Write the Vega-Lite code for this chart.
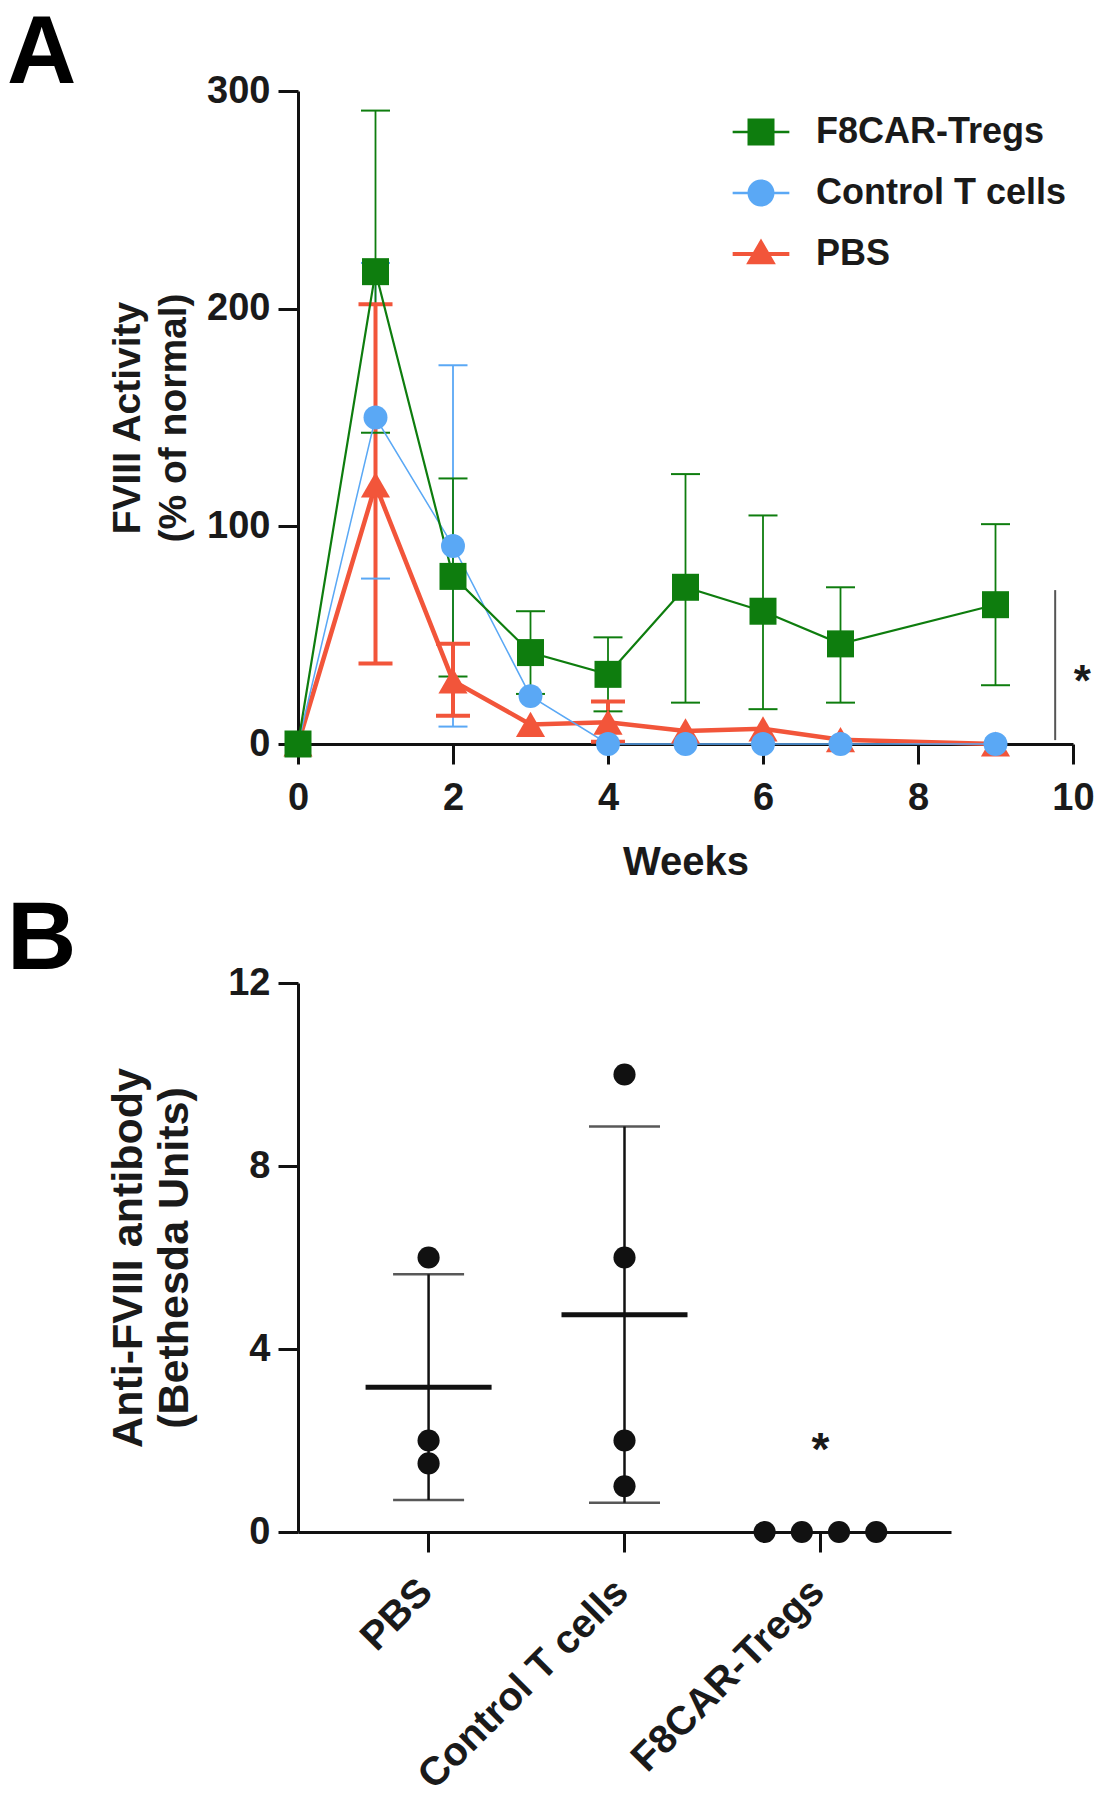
{
  "$schema": "https://vega.github.io/schema/vega-lite/v6.json",
  "background": "white",
  "padding": {"left": 7, "top": 6, "right": 0, "bottom": 0},
  "spacing": 10,
  "config": {
    "font": "Liberation Sans",
    "view": {"stroke": null},
    "axis": {
      "domainColor": "#111", "domainWidth": 3, "tickColor": "#111", "tickWidth": 3, "tickSize": 20,
      "labelFont": "Liberation Sans", "labelFontSize": 38, "labelFontWeight": "bold", "labelColor": "#1a1a1a", "labelLimit": 0, "labelFlush": false,
      "titleFont": "Liberation Sans", "titleFontSize": 39, "titleFontWeight": "bold", "titleColor": "#1a1a1a",
      "grid": false
    },
    "title": {"font": "Liberation Sans", "fontSize": 96, "fontWeight": "bold", "color": "#000", "anchor": "start", "frame": "group", "dx": -291, "offset": -25}
  },
  "vconcat": [
    {
      "title": {"text": "A", "offset": -31},
      "width": 775,
      "height": 653,
      "data": {"values": [
        {"series": "PBS", "week": 0, "mean": 0},
        {"series": "PBS", "week": 1, "mean": 119, "lo": 37, "hi": 202},
        {"series": "PBS", "week": 2, "mean": 29, "lo": 13, "hi": 46},
        {"series": "PBS", "week": 3, "mean": 9},
        {"series": "PBS", "week": 4, "mean": 10, "lo": 1, "hi": 19.5},
        {"series": "PBS", "week": 5, "mean": 6},
        {"series": "PBS", "week": 6, "mean": 7},
        {"series": "PBS", "week": 7, "mean": 2},
        {"series": "PBS", "week": 9, "mean": 0},
        {"series": "Control T cells", "week": 0, "mean": 0},
        {"series": "Control T cells", "week": 1, "mean": 150, "lo": 76, "hi": 221},
        {"series": "Control T cells", "week": 2, "mean": 91, "lo": 8, "hi": 174},
        {"series": "Control T cells", "week": 3, "mean": 22},
        {"series": "Control T cells", "week": 4, "mean": 0},
        {"series": "Control T cells", "week": 5, "mean": 0},
        {"series": "Control T cells", "week": 6, "mean": 0},
        {"series": "Control T cells", "week": 7, "mean": 0},
        {"series": "Control T cells", "week": 9, "mean": 0},
        {"series": "F8CAR-Tregs", "week": 0, "mean": 0},
        {"series": "F8CAR-Tregs", "week": 1, "mean": 217, "lo": 143, "hi": 291},
        {"series": "F8CAR-Tregs", "week": 2, "mean": 77, "lo": 31, "hi": 122},
        {"series": "F8CAR-Tregs", "week": 3, "mean": 42, "lo": 23, "hi": 61},
        {"series": "F8CAR-Tregs", "week": 4, "mean": 32, "lo": 15, "hi": 49},
        {"series": "F8CAR-Tregs", "week": 5, "mean": 72, "lo": 19, "hi": 124},
        {"series": "F8CAR-Tregs", "week": 6, "mean": 61, "lo": 16, "hi": 105},
        {"series": "F8CAR-Tregs", "week": 7, "mean": 46, "lo": 19, "hi": 72},
        {"series": "F8CAR-Tregs", "week": 9, "mean": 64, "lo": 27, "hi": 101}
      ]},
      "layer": [
        {
          "mark": {"type": "rule", "color": "#555", "strokeWidth": 2},
          "data": {"values": [{"week": 9.77, "y1": 1.8, "y2": 70.7}]},
          "encoding": {
            "x": {"field": "week", "type": "quantitative", "scale": {"domain": [0, 10], "nice": false},
              "axis": {"values": [0, 2, 4, 6, 8, 10], "format": "d", "title": "Weeks", "titleFontSize": 40, "labelPadding": 15, "titlePadding": 25}},
            "y": {"field": "y1", "type": "quantitative", "scale": {"domain": [0, 300], "nice": false},
              "axis": {"values": [0, 100, 200, 300], "title": ["FVIII Activity", "(% of normal)"], "labelPadding": 8,
                "titleX": -190, "titleY": 326.5, "titleAngle": -90, "titleAlign": "center", "titleBaseline": "top", "titleLineHeight": 46}},
            "y2": {"field": "y2"}
          }
        },
        {
          "mark": {"type": "text", "fontSize": 44, "fontWeight": "bold", "color": "#1a1a1a", "baseline": "alphabetic", "align": "center", "dy": 25},
          "data": {"values": [{"week": 10.12, "y": 33.5, "label": "*"}]},
          "encoding": {
            "x": {"field": "week", "type": "quantitative"},
            "y": {"field": "y", "type": "quantitative"},
            "text": {"field": "label"}
          }
        },
        {
          "transform": [{"filter": "datum.series !== 'PBS'"}],
          "mark": {"type": "rule", "strokeWidth": 1.8},
          "encoding": {
            "x": {"field": "week", "type": "quantitative"},
            "y": {"field": "lo", "type": "quantitative"},
            "y2": {"field": "hi"},
            "color": {"field": "series", "type": "nominal"}
          }
        },
        {
          "transform": [{"filter": "datum.series === 'PBS'"}],
          "mark": {"type": "rule", "strokeWidth": 4},
          "encoding": {
            "x": {"field": "week", "type": "quantitative"},
            "y": {"field": "lo", "type": "quantitative"},
            "y2": {"field": "hi"},
            "color": {"field": "series", "type": "nominal"}
          }
        },
        {
          "transform": [{"filter": "datum.series !== 'PBS'"}, {"fold": ["lo", "hi"], "as": ["bound", "val"]}],
          "mark": {"type": "tick", "orient": "horizontal", "size": 29, "thickness": 2, "opacity": 1},
          "encoding": {
            "x": {"field": "week", "type": "quantitative"},
            "y": {"field": "val", "type": "quantitative"},
            "color": {"field": "series", "type": "nominal"}
          }
        },
        {
          "transform": [{"filter": "datum.series === 'PBS'"}, {"fold": ["lo", "hi"], "as": ["bound", "val"]}],
          "mark": {"type": "tick", "orient": "horizontal", "size": 34, "thickness": 4, "opacity": 1},
          "encoding": {
            "x": {"field": "week", "type": "quantitative"},
            "y": {"field": "val", "type": "quantitative"},
            "color": {"field": "series", "type": "nominal"}
          }
        },
        {
          "transform": [{"filter": "datum.series === 'PBS'"}],
          "mark": {"type": "line", "strokeWidth": 4.5},
          "encoding": {
            "x": {"field": "week", "type": "quantitative"},
            "y": {"field": "mean", "type": "quantitative"},
            "color": {"field": "series", "type": "nominal"},
            "order": {"field": "week"}
          }
        },
        {
          "transform": [{"filter": "datum.series === 'Control T cells'"}],
          "mark": {"type": "line", "strokeWidth": 1.5},
          "encoding": {
            "x": {"field": "week", "type": "quantitative"},
            "y": {"field": "mean", "type": "quantitative"},
            "color": {"field": "series", "type": "nominal"},
            "order": {"field": "week"}
          }
        },
        {
          "transform": [{"filter": "datum.series === 'F8CAR-Tregs'"}],
          "mark": {"type": "line", "strokeWidth": 2.2},
          "encoding": {
            "x": {"field": "week", "type": "quantitative"},
            "y": {"field": "mean", "type": "quantitative"},
            "color": {"field": "series", "type": "nominal"},
            "order": {"field": "week"}
          }
        },
        {
          "transform": [{"filter": "datum.series === 'PBS'"}],
          "mark": {"type": "point", "shape": "triangle-up", "size": 850, "filled": true, "opacity": 1, "strokeWidth": 0},
          "encoding": {
            "x": {"field": "week", "type": "quantitative"},
            "y": {"field": "mean", "type": "quantitative"},
            "color": {"field": "series", "type": "nominal"}
          }
        },
        {
          "transform": [{"filter": "datum.series === 'Control T cells'"}],
          "mark": {"type": "point", "shape": "circle", "size": 573, "filled": true, "opacity": 1, "strokeWidth": 0},
          "encoding": {
            "x": {"field": "week", "type": "quantitative"},
            "y": {"field": "mean", "type": "quantitative"},
            "color": {"field": "series", "type": "nominal"}
          }
        },
        {
          "transform": [{"filter": "datum.series === 'F8CAR-Tregs'"}],
          "mark": {"type": "point", "shape": "square", "size": 729, "filled": true, "opacity": 1, "strokeWidth": 0},
          "encoding": {
            "x": {"field": "week", "type": "quantitative"},
            "y": {"field": "mean", "type": "quantitative"},
            "color": {"field": "series", "type": "nominal",
              "scale": {"domain": ["F8CAR-Tregs", "Control T cells", "PBS"], "range": ["#0e7d0e", "#5aa8f5", "#f2553a"]},
              "legend": {
                "orient": "none", "legendX": 445, "legendY": 23, "title": null, "padding": 0,
                "labelFont": "Liberation Sans", "labelFontSize": 36, "labelFontWeight": "bold", "labelColor": "#1a1a1a", "labelLimit": 0,
                "symbolSize": 729, "rowPadding": 25, "labelOffset": 37, "symbolOpacity": 1, "symbolStrokeWidth": 0,
                "encode": {"symbols": {"update": {
                  "shape": {"signal": "datum.value === 'F8CAR-Tregs' ? 'M-2.1,-0.09H2.1V0.09H-2.1Z M-1,-1H1V1H-1Z' : datum.value === 'Control T cells' ? 'M-2.1,-0.09H2.1V0.09H-2.1Z M-1,0A1,1 0 1,1 1,0A1,1 0 1,1 -1,0Z' : 'M-2.1,-0.15H2.1V0.15H-2.1Z M0,-1.15L1.1,0.75L-1.1,0.75Z'"}
                }}}
              }}
          }
        }
      ]
    },
    {
      "title": {"text": "B"},
      "width": 653,
      "height": 549,
      "data": {"values": [
        {"group": "PBS", "value": 6, "mouse": 1},
        {"group": "PBS", "value": 2, "mouse": 2},
        {"group": "PBS", "value": 1.5, "mouse": 3},
        {"group": "Control T cells", "value": 10, "mouse": 1},
        {"group": "Control T cells", "value": 6, "mouse": 2},
        {"group": "Control T cells", "value": 2, "mouse": 3},
        {"group": "Control T cells", "value": 1, "mouse": 4},
        {"group": "F8CAR-Tregs", "value": 0, "mouse": 1},
        {"group": "F8CAR-Tregs", "value": 0, "mouse": 2},
        {"group": "F8CAR-Tregs", "value": 0, "mouse": 3},
        {"group": "F8CAR-Tregs", "value": 0, "mouse": 4}
      ]},
      "encoding": {
        "x": {"field": "group", "type": "nominal", "sort": ["PBS", "Control T cells", "F8CAR-Tregs"],
          "scale": {"type": "band", "paddingInner": 0.1, "paddingOuter": 0.2165},
          "axis": {"labelAngle": -45, "labelAlign": "right", "labelBaseline": "alphabetic", "title": null, "labelPadding": 42, "labelOffset": 6, "labelFontSize": 40}},
        "y": {"field": "value", "type": "quantitative", "scale": {"domain": [0, 12], "nice": false},
          "axis": {"values": [0, 4, 8, 12], "title": ["Anti-FVIII antibody", "(Bethesda Units)"], "labelPadding": 8, "titleFontSize": 43,
            "titleX": -191, "titleY": 274.5, "titleAngle": -90, "titleAlign": "center", "titleBaseline": "top", "titleLineHeight": 46}}
      },
      "layer": [
        {
          "transform": [{"filter": "datum.group !== 'F8CAR-Tregs'"}],
          "mark": {"type": "errorbar", "extent": "stdev", "color": "#111",
            "ticks": {"size": 71, "thickness": 2.5, "color": "#111"}, "rule": {"strokeWidth": 2.5, "color": "#111"}}
        },
        {
          "transform": [{"filter": "datum.group !== 'F8CAR-Tregs'"}],
          "mark": {"type": "tick", "size": 126, "thickness": 5, "color": "#111", "opacity": 1},
          "encoding": {"y": {"aggregate": "mean", "field": "value", "type": "quantitative"}}
        },
        {
          "transform": [{"filter": "datum.group !== 'F8CAR-Tregs'"}],
          "mark": {"type": "point", "filled": true, "size": 490, "color": "#111", "opacity": 1}
        },
        {
          "transform": [{"filter": "datum.group === 'F8CAR-Tregs'"}],
          "mark": {"type": "point", "filled": true, "size": 490, "color": "#111", "opacity": 1},
          "encoding": {"xOffset": {"field": "mouse", "type": "nominal", "scale": {"type": "point", "padding": 0.87}}}
        },
        {
          "data": {"values": [{"group": "F8CAR-Tregs", "value": 1.93, "label": "*"}]},
          "mark": {"type": "text", "fontSize": 46, "fontWeight": "bold", "color": "#1a1a1a", "baseline": "alphabetic", "align": "center", "dy": 21},
          "encoding": {"text": {"field": "label"}}
        }
      ]
    }
  ]
}
